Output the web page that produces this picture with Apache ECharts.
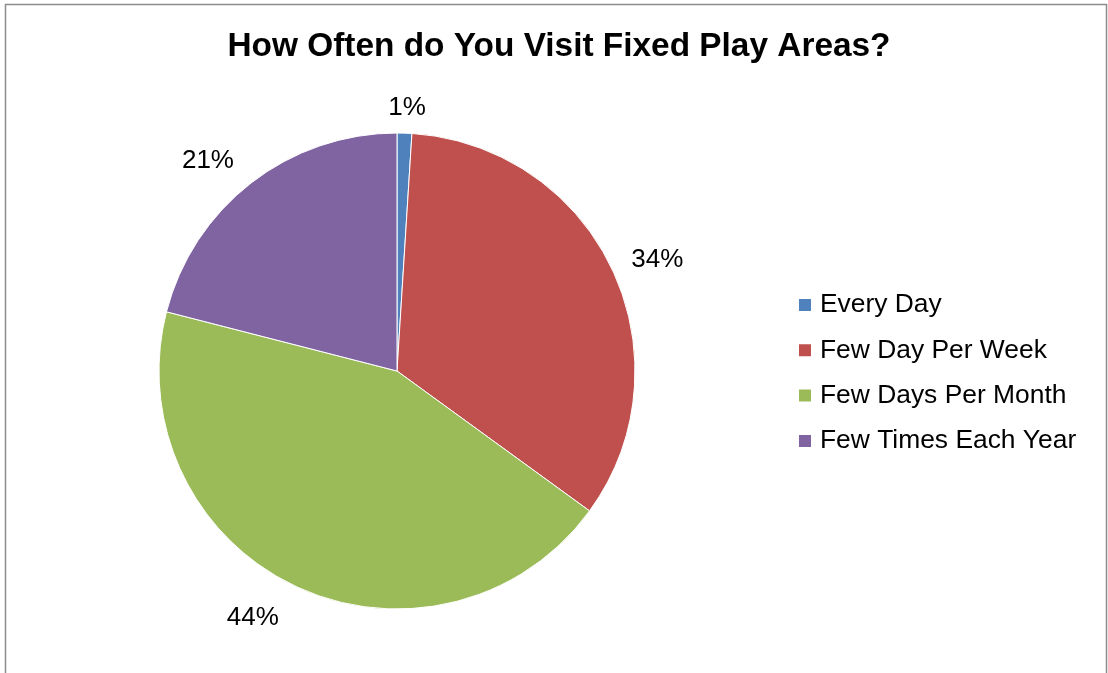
<!DOCTYPE html>
<html>
<head>
<meta charset="utf-8">
<script src="https://cdn.jsdelivr.net/npm/echarts@6/dist/echarts.min.js"></script>
<style>
  html, body { margin: 0; padding: 0; background: #fff; }
  #chart { width: 1108px; height: 673px; }
</style>
</head>
<body>
<div id="chart"></div>
<script>
const titleText = 'How Often do You Visit Fixed Play Areas?';
const categories = ['Every Day', 'Few Day Per Week', 'Few Days Per Month', 'Few Times Each Year'];
const values = [1, 34, 44, 21];
const colors = ['#4F81BD', '#C0504D', '#9BBB59', '#8064A2'];

// per-slice label placement styles (Excel-like positioning)
const labelStyles = [
  { length: 25, length2: 0, dist: -17 },
  { length: 22, length2: 25, dist: -26 },
  { length: 35, length2: 28, dist: -26 },
  { length: 28, length2: 26, dist: -26 }
];

const chart = echarts.init(document.getElementById('chart'));
const total = values.reduce((a, b) => a + b, 0);

chart.setOption({
  animation: false,
  backgroundColor: '#ffffff',
  graphic: [{
    type: 'rect',
    shape: { x: 5.5, y: 4.5, width: 1101, height: 720 },
    style: { fill: 'none', stroke: '#8c8c8c', lineWidth: 1.5 },
    silent: true
  }],
  title: {
    text: titleText,
    left: 554,
    textAlign: 'center',
    top: 25,
    textStyle: {
      fontFamily: 'Liberation Sans, Arial, sans-serif',
      fontWeight: 'bold',
      fontSize: 33.4,
      color: '#000'
    }
  },
  legend: {
    orient: 'vertical',
    left: 797,
    top: 292,
    padding: 0,
    icon: 'rect',
    itemWidth: 14,
    itemHeight: 14,
    itemGap: 19.3,
    data: categories,
    textStyle: {
      fontFamily: 'Liberation Sans, Arial, sans-serif',
      fontSize: 26.4,
      lineHeight: 26,
      color: '#000',
      padding: [0, 0, 0, 3]
    }
  },
  series: [{
    type: 'pie',
    center: [397, 371],
    radius: 238,
    startAngle: 90,
    clockwise: true,
    avoidLabelOverlap: false,
    itemStyle: { borderColor: '#ffffff', borderWidth: 1 },
    labelLine: { show: false },
    label: {
      show: true,
      position: 'outside',
      fontFamily: 'Liberation Sans, Arial, sans-serif',
      fontSize: 26,
      color: '#000',
      formatter: p => Math.round(p.value / total * 100) + '%'
    },
    data: categories.map((name, i) => ({
      name: name,
      value: values[i],
      itemStyle: { color: colors[i] },
      labelLine: { show: false, length: labelStyles[i].length, length2: labelStyles[i].length2 },
      label: { distanceToLabelLine: labelStyles[i].dist }
    }))
  }]
});
</script>
</body>
</html>
